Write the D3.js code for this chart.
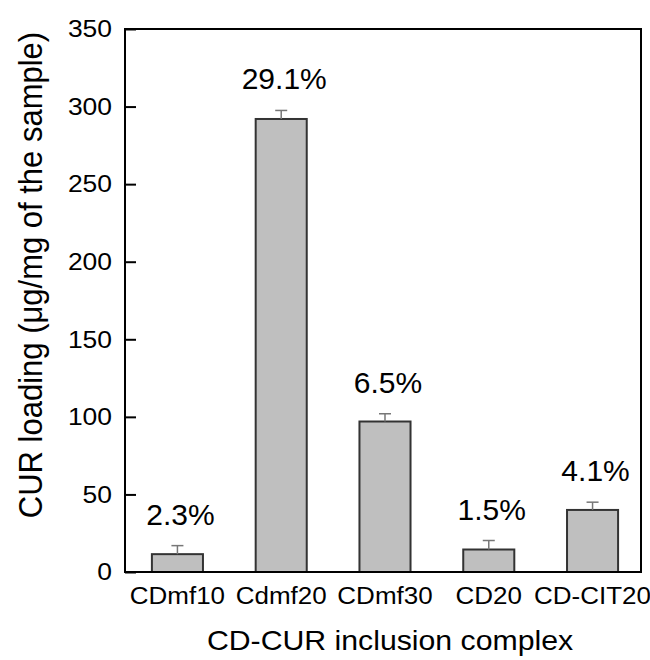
<!DOCTYPE html>
<html>
<head>
<meta charset="utf-8">
<script src="https://cdn.jsdelivr.net/npm/d3@7"></script>
<style>
  body { margin: 0; background: #fff; }
  svg { display: block; font-family: "Liberation Sans", Arial, sans-serif; }
</style>
</head>
<body>
<div id="chart"></div>
<script>
// values
const categories = ["CDmf10", "Cdmf20", "CDmf30", "CD20", "CD-CIT20"];
const loading = [11.5, 292, 97, 14.5, 40];
const errors = [5.5, 5.5, 5, 5.8, 5];
const percentLabels = ["2.3%", "29.1%", "6.5%", "1.5%", "4.1%"];
const yTicks = [0, 50, 100, 150, 200, 250, 300, 350];

const width = 650, height = 660;
const plotLeft = 125, plotRight = 641, plotTop = 29, plotBottom = 572;

const svg = d3.select("#chart").append("svg")
    .attr("width", width)
    .attr("height", height);

const x = d3.scaleBand()
    .domain(categories)
    .range([plotLeft, plotRight])
    .paddingInner(0.508)
    .paddingOuter(0.24)
    .align(0.54);

const y = d3.scaleLinear()
    .domain([0, 350])
    .range([plotBottom, plotTop]);

const rows = categories.map((c, i) => ({ name: c, value: loading[i], err: errors[i], label: percentLabels[i] }));
const mid = d => x(d.name) + x.bandwidth() / 2;

// bars
svg.append("g").selectAll("rect")
    .data(rows)
    .enter().append("rect")
    .attr("x", d => x(d.name))
    .attr("y", d => y(d.value))
    .attr("width", x.bandwidth())
    .attr("height", d => y(0) - y(d.value))
    .attr("fill", "#bfbfbf")
    .attr("stroke", "#333")
    .attr("stroke-width", 2);

// error bars (upper only)
const eb = svg.append("g").attr("stroke", "#777").attr("stroke-width", 1.5);
eb.selectAll("line.v")
    .data(rows)
    .enter().append("line")
    .attr("class", "v")
    .attr("x1", mid)
    .attr("x2", mid)
    .attr("y1", d => y(d.value))
    .attr("y2", d => y(d.value + d.err));
eb.selectAll("line.cap")
    .data(rows)
    .enter().append("line")
    .attr("class", "cap")
    .attr("x1", d => mid(d) - 6)
    .attr("x2", d => mid(d) + 6)
    .attr("y1", d => y(d.value + d.err))
    .attr("y2", d => y(d.value + d.err));

// percentage labels
svg.append("g").selectAll("text")
    .data(rows)
    .enter().append("text")
    .attr("x", d => mid(d) + 3)
    .attr("y", d => y(d.value + d.err) - 21)
    .attr("text-anchor", "middle")
    .attr("font-size", 30)
    .text(d => d.label);

// frame
svg.append("rect")
    .attr("x", plotLeft)
    .attr("y", plotTop)
    .attr("width", plotRight - plotLeft)
    .attr("height", plotBottom - plotTop)
    .attr("fill", "none")
    .attr("stroke", "#000")
    .attr("stroke-width", 2);

// y axis, ticks pointing inward
const yAxis = svg.append("g")
    .attr("transform", `translate(${plotLeft},0)`)
    .call(d3.axisRight(y).tickValues(yTicks).tickSize(11).tickFormat(""));
yAxis.select(".domain").remove();
yAxis.selectAll("line").attr("stroke", "#000").attr("stroke-width", 2);

// tick labels in the figure are drawn a bit wide, hence the x-scale
svg.append("g").selectAll("text")
    .data(yTicks)
    .enter().append("text")
    .attr("transform", d => `translate(${plotLeft - 13},${y(d)}) scale(1.15,1)`)
    .attr("dy", "0.36em")
    .attr("text-anchor", "end")
    .attr("font-size", 23)
    .text(d => d);

svg.append("g").selectAll("text")
    .data(categories)
    .enter().append("text")
    .attr("transform", d => `translate(${x(d) + x.bandwidth() / 2},604) scale(1.13,1)`)
    .attr("text-anchor", "middle")
    .attr("font-size", 23)
    .text(d => d);

// axis titles
svg.append("text")
    .attr("transform", "translate(390,650) scale(1.08,1)")
    .attr("text-anchor", "middle")
    .attr("font-size", 28)
    .text("CD-CUR inclusion complex");

svg.append("text")
    .attr("transform", "translate(42,275) rotate(-90) scale(1,1.08)")
    .attr("text-anchor", "middle")
    .attr("font-size", 31)
    .text("CUR loading (\u03bcg/mg of the sample)");
</script>
</body>
</html>
